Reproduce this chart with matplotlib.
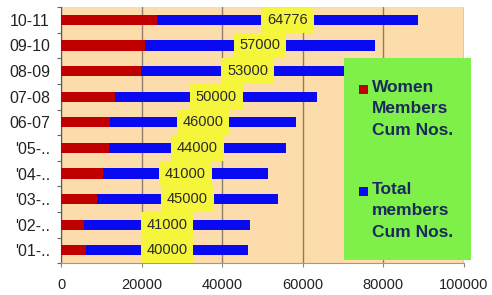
import matplotlib
matplotlib.use('Agg');
import matplotlib.pyplot as plt;
from matplotlib.patches import Rectangle;

# membership figures, bottom row first
years = ["'01-..", "'02-..", "'03-..", "'04-..", "'05-..", "06-07", "07-08", "08-09", "09-10", "10-11"];
women = [6300, 5800, 8900, 10400, 11900, 12200, 13500, 19800, 20900, 23800];
total = [40000, 41000, 45000, 41000, 44000, 46000, 50000, 53000, 57000, 64776];
xticks = [0, 20000, 40000, 60000, 80000, 100000];
legend_labels = ['Women\nMembers\nCum Nos.', 'Total\nmembers\nCum Nos.'];

plt.rcParams['font.family'] = ['Liberation Sans', 'DejaVu Sans'];

W, H = 492.0, 295.0;
fig = plt.figure(figsize=(4.92, 2.95), dpi=100);
ax = fig.add_axes([0.124, 0.108, 0.819, 0.868]);
ax.set_facecolor('#FCDCAA');

red = '#C00000';
blue = '#0A0AF0';
pos = list(range(len(years)));
ax.barh(pos, women, height=0.4, color=red, zorder=3);
bars = ax.barh(pos, total, left=women, height=0.4, color=blue, zorder=3);
ax.bar_label(bars, labels=[str(v) for v in total], label_type='center', fontsize=10.5, color='#2a2a2a',
             bbox=dict(boxstyle='square,pad=0.4', fc='#F5F53C', ec='none'), zorder=5);

ax.set_xlim(0, 100000);
ax.set_ylim(-0.5, len(years) - 0.5);
ax.set_xticks(xticks);
ax.set_xticklabels([str(v) for v in xticks], fontsize=10.5, color='#222222');
ax.set_yticks([p - 0.5 for p in pos] + [len(years) - 0.5]);
ax.set_yticklabels([]);
ax.set_yticks(pos, minor=True);
ax.set_yticklabels(years, minor=True, fontsize=11.5, color='#222222');
ax.tick_params(axis='y', which='minor', length=0, pad=8);
ax.tick_params(axis='y', which='major', length=3, color='#666666');
ax.tick_params(axis='x', length=3, color='#888888', pad=8);
ax.grid(axis='x', color='#8C7C6A', linewidth=1, zorder=1);

for s in ['top', 'right']:
    ax.spines[s].set_visible(False);
ax.spines['left'].set_color('#555555');
ax.spines['bottom'].set_color('#999999');

# green legend panel drawn by hand (pixel positions)
fig.patches.append(Rectangle((344 / W, 1 - 260 / H), 127 / W, 202 / H, transform=fig.transFigure,
                             fc='#7FF04A', ec='none', zorder=10));
for lab, col, top in zip(legend_labels, [red, blue], [85, 187]):
    fig.patches.append(Rectangle((359 / W, 1 - (top + 8.5) / H), 8.5 / W, 8.5 / H, transform=fig.transFigure,
                                 fc=col, ec='none', zorder=11));
    fig.text(372 / W, 1 - (top - 5) / H, lab, ha='left', va='top', fontsize=12.5, fontweight='bold',
             color='#1B2A5C', linespacing=1.53, zorder=12);

plt.savefig('out.png', dpi=100);
